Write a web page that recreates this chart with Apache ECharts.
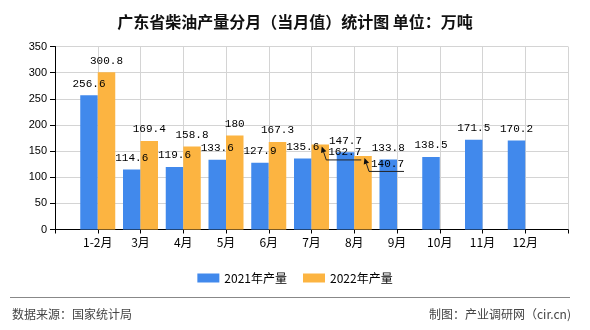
<!DOCTYPE html>
<html><head><meta charset="utf-8">
<script src="https://cdn.jsdelivr.net/npm/echarts@6/dist/echarts.min.js"></script>
<style>html,body{margin:0;padding:0;background:#fff;}#c{width:590px;height:330px;}</style>
</head><body><div id="c"></div>
<script>
const months = ['1-2月','3月','4月','5月','6月','7月','8月','9月','10月','11月','12月'];
const output2021 = [256.6,114.6,119.6,133.6,127.9,135.6,147.7,133.8,138.5,171.5,170.2];
const output2022 = [300.8,169.4,158.8,180,167.3,162.7,140.7];
const seriesNames = ['2021年产量','2022年产量'];
const leaderLabelIdx = [5,6];

const BAR_W = 17.5;
const cats = [''].concat(months, ['']);
const pad = arr => [null].concat(arr, new Array(cats.length - 1 - arr.length).fill(null));
const LABEL_FONT = '"Liberation Mono", "DejaVu Sans Mono", monospace';

const chart = echarts.init(document.getElementById('c'), null, {renderer:'canvas'});
chart.setOption({
  animation:false,
  backgroundColor:'#fff',
  title:{text:'广东省柴油产量分月（当月值）统计图 单位：万吨', left:'center', top:9,
    textStyle:{fontSize:16, fontWeight:'bold', color:'#111', fontFamily:'"Noto Sans CJK SC"'}},
  legend:{data:seriesNames, left:'center', top:267, itemWidth:22, itemHeight:9, itemGap:16,
    icon:'rect', textStyle:{fontSize:12, color:'#000', fontFamily:'"Noto Sans CJK SC"'}},
  grid:{left:55, right:22, top:46.5, bottom:100.5, containLabel:false},
  xAxis:{type:'category', data:cats, boundaryGap:false,
    axisLine:{lineStyle:{color:'#000'}}, axisTick:{show:true, length:4, interval:0, lineStyle:{color:'#000'}},
    axisLabel:{interval:0, margin:7, fontSize:12, color:'#000', fontFamily:'"Noto Sans CJK SC"'},
    splitLine:{show:true, interval:0, lineStyle:{color:'#d4d4d4'}}},
  yAxis:{type:'value', min:0, max:350, interval:50,
    axisLine:{show:true, lineStyle:{color:'#000'}}, axisTick:{show:true, length:5, lineStyle:{color:'#000'}},
    axisLabel:{margin:8, fontSize:11, color:'#000', fontFamily:'"Liberation Sans"'},
    splitLine:{lineStyle:{color:'#d4d4d4'}}},
  graphic:[
    {type:'line', shape:{x1:10, y1:297.5, x2:570, y2:297.5}, style:{stroke:'#888', lineWidth:1}},
    {type:'text', left:12, top:308, style:{text:'数据来源：国家统计局', font:'12px "Noto Sans CJK SC"', fill:'#444'}},
    {type:'text', right:19, top:308, style:{text:'制图：产业调研网（cir.cn)', font:'12px "Noto Sans CJK SC"', fill:'#444'}}
  ],
  series:[
    {name:seriesNames[0], type:'bar', data:pad(output2021), barWidth:BAR_W, barGap:'0%',
      itemStyle:{color:'#4189EC'},
      label:{show:true, position:'top', distance:6, color:'#000', fontSize:11, fontFamily:LABEL_FONT}},
    {name:seriesNames[1], type:'bar', barWidth:BAR_W, barGap:'0%',
      data:pad(output2022).map((v,i)=> (v!=null && leaderLabelIdx.includes(i-1)) ? {value:v, label:{show:false}} : v),
      itemStyle:{color:'#FCB441'},
      label:{show:true, position:'top', distance:6, color:'#000', fontSize:11, fontFamily:LABEL_FONT}},
    {name:'leader', type:'custom', silent:true, z:5,
      data: leaderLabelIdx.map(i => [i+1, output2022[i]]),
      renderItem:function(params, api){
        const p = api.coord([api.value(0), api.value(1)]);
        const cx = p[0] + BAR_W/2, top = p[1];
        const tip=[cx+1.5, top+2], corner=[cx+6, top+15.5], end=[cx+41, top+15.5];
        const dx=tip[0]-corner[0], dy=tip[1]-corner[1], len=Math.hypot(dx,dy);
        const ux=dx/len, uy=dy/len, L=6, W=2.8;
        const base=[tip[0]-ux*L, tip[1]-uy*L];
        const head=[tip,[base[0]-uy*W, base[1]+ux*W],[base[0]+uy*W, base[1]-ux*W]];
        return {type:'group', children:[
          {type:'polyline', shape:{points:[base, corner, end]}, style:{stroke:'#222', lineWidth:1, fill:null}},
          {type:'polygon', shape:{points:head}, style:{fill:'#111'}},
          {type:'text', x:cx+8, y:top+8, style:{text:String(api.value(1)), fill:'#000',
            font:'11px '+LABEL_FONT, align:'left', verticalAlign:'middle'}}
        ]};
      }}
  ]
});
</script></body></html>
